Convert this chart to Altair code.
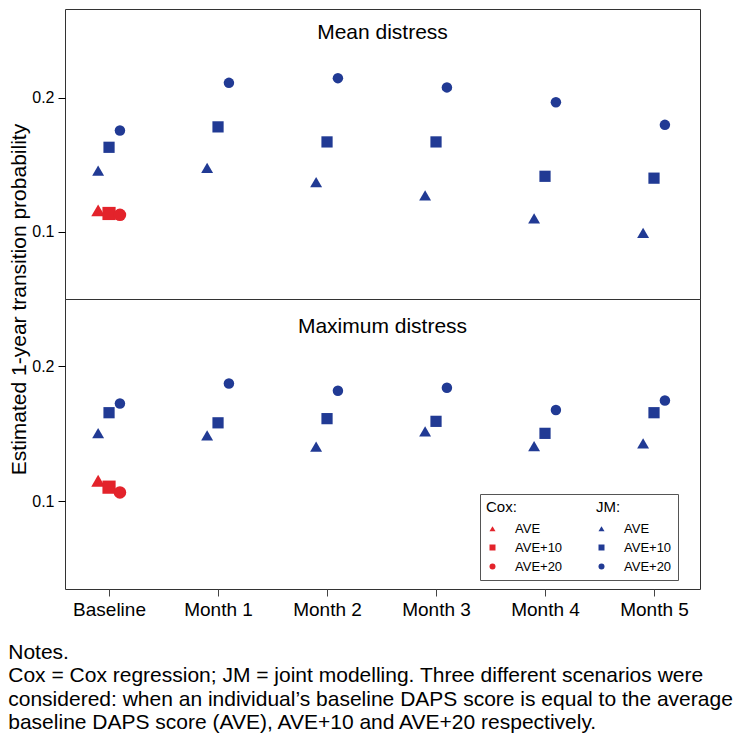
import altair as alt
import pandas as pd

FONT = "Liberation Sans, Arial, Helvetica, sans-serif"

timepoints = ["Baseline", "Month 1", "Month 2", "Month 3", "Month 4", "Month 5"]
scenarios = ["AVE", "AVE+10", "AVE+20"]

# Mean distress panel (JM at every time point, Cox at baseline only)
mean_jm_ave = [0.1456, 0.1476, 0.1370, 0.1272, 0.1100, 0.0993]
mean_jm_ave10 = [0.1630, 0.1782, 0.1670, 0.1670, 0.1414, 0.1400]
mean_jm_ave20 = [0.1755, 0.2110, 0.2145, 0.2076, 0.1966, 0.1797]
mean_cox = [0.1160, 0.1137, 0.1127]

# Maximum distress panel
max_jm_ave = [0.1506, 0.1489, 0.1406, 0.1518, 0.1409, 0.1430]
max_jm_ave10 = [0.1657, 0.1582, 0.1613, 0.1593, 0.1504, 0.1657]
max_jm_ave20 = [0.1725, 0.1874, 0.1820, 0.1842, 0.1677, 0.1747]
max_cox = [0.1153, 0.1105, 0.1066]

legend_keys = ["Cox AVE", "Cox AVE+10", "Cox AVE+20", "JM AVE", "JM AVE+10", "JM AVE+20"]
key_colors = ["#e3232b", "#e3232b", "#e3232b", "#213a94", "#213a94", "#213a94"]
key_shapes = ["triangle-up", "square", "circle", "triangle-up", "square", "circle"]

notes = [
    "Notes.",
    "Cox = Cox regression; JM = joint modelling. Three different scenarios were",
    "considered: when an individual\u2019s baseline DAPS score is equal to the average",
    "baseline DAPS score (AVE), AVE+10 and AVE+20 respectively.",
]


def build_rows(jm_lists, cox_vals):
    rows = []
    for s, vals in zip(scenarios, jm_lists):
        for t, v in enumerate(vals):
            rows.append({"t": t, "scenario": s, "model": "JM", "key": "JM " + s, "value": v})
    for s, v in zip(scenarios, cox_vals):
        rows.append({"t": 0, "scenario": s, "model": "Cox", "key": "Cox " + s, "value": v})
    return pd.DataFrame(rows)


df_mean = build_rows([mean_jm_ave, mean_jm_ave10, mean_jm_ave20], mean_cox)
df_max = build_rows([max_jm_ave, max_jm_ave10, max_jm_ave20], max_cox)

W, H = 635, 290
x_scale = alt.Scale(domain=[-0.404, 5.422], nice=False, zero=False)
label_expr = "[" + ",".join("'%s'" % t for t in timepoints) + "][datum.value]"


def panel(df, title, ydomain, title_y, first, sizes):
    if first:
        x_enc = alt.X("xpos:Q", scale=x_scale, axis=None)
        y_axis = alt.Axis(values=[0.1, 0.2], format=".1f", title="Estimated 1-year transition probability",
                          titleY=H, titleFontSize=21, titleFont=FONT, titleFontWeight="normal",
                          titlePadding=2, titleColor="black")
        legend = None
    else:
        x_enc = alt.X("xpos:Q", scale=x_scale,
                      axis=alt.Axis(values=list(range(len(timepoints))), labelExpr=label_expr,
                                    title=None, grid=False, domain=False, tickSize=7,
                                    tickColor="#444", labelFontSize=19, labelFont=FONT,
                                    labelPadding=4, labelColor="black", labelFlush=False))
        y_axis = alt.Axis(values=[0.1, 0.2], format=".1f", title=None)
        legend = alt.Legend(orient="none", legendX=415, legendY=195, columns=2, columnPadding=32,
                            rowPadding=5, title="Cox:" + "\u00a0" * 19 + "JM:", titleFontSize=15,
                            titleFont=FONT, titleFontWeight="normal", titleColor="black",
                            titlePadding=7, labelFontSize=13, labelFont=FONT, labelColor="black",
                            labelOffset=16, symbolSize=36, symbolStrokeWidth=0,
                            labelExpr="split(datum.label, ' ')[1]", strokeColor="#555",
                            fillColor="white", padding=6)
    pts = (
        alt.Chart(df)
        .transform_calculate(
            xpos="datum.t + (datum.scenario == 'AVE' ? -0.1 : (datum.scenario == 'AVE+20' ? 0.1 : 0))",
            skey="'s_' + datum.key",
        )
        .mark_point(filled=True, opacity=1)
        .encode(
            x=x_enc,
            y=alt.Y("value:Q", scale=alt.Scale(domain=ydomain, nice=False, zero=False), axis=y_axis),
            color=alt.Color("key:N", scale=alt.Scale(domain=legend_keys, range=key_colors), legend=legend),
            shape=alt.Shape("key:N", scale=alt.Scale(domain=legend_keys, range=key_shapes), legend=legend),
            size=alt.Size("skey:N", scale=alt.Scale(domain=["s_" + k for k in legend_keys], range=sizes),
                          legend=None),
        )
    )
    txt = (
        alt.Chart(pd.DataFrame({"label": [title]}))
        .mark_text(fontSize=21, font=FONT, baseline="middle", align="center", color="black")
        .encode(text="label:N", x=alt.value(W / 2), y=alt.value(title_y))
    )
    return alt.layer(pts, txt).properties(width=W, height=H)


top = panel(df_mean, "Mean distress", [0.05, 0.266], 24, True, [190, 110, 100, 190, 110, 100])
bottom = panel(df_max, "Maximum distress", [0.035, 0.25], 28, False, [190, 110, 100, 120, 110, 100])

chart = (
    alt.vconcat(top, bottom, spacing=0, bounds="flush")
    .resolve_legend(color="independent", shape="independent", size="independent")
    .properties(
        padding={"left": 0, "top": 0, "right": 2, "bottom": 2},
        title=alt.TitleParams(text=notes, orient="bottom", anchor="start", frame="bounds",
                              fontSize=21, font=FONT, fontWeight="normal", lineHeight=23.5,
                              offset=22, color="black"),
    )
    .configure_view(stroke="#333", strokeWidth=1)
    .configure_axis(labelFont=FONT, labelFontSize=16, labelColor="black", tickColor="black",
                    tickSize=7, labelPadding=4, domain=False, grid=False)
)

chart.save("out.html", embed_options={"renderer": "svg", "actions": False})
